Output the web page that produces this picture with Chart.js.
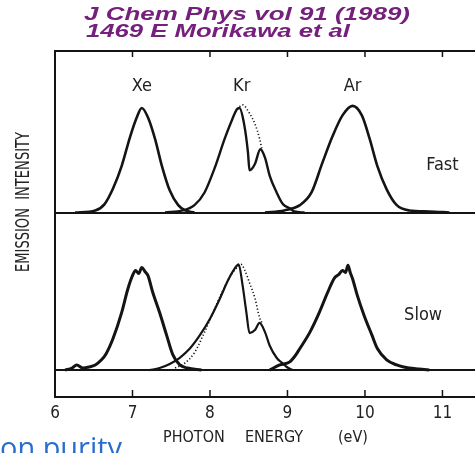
<!DOCTYPE html>
<html>
<head>
<meta charset="utf-8">
<script src="https://cdn.jsdelivr.net/npm/chart.js@4.4.0/dist/chart.umd.min.js"></script>
<style>
    html, body { margin: 0; padding: 0; background: #fff; }
</style>
</head>
<body>
<canvas id="chart" width="475" height="453"></canvas>
<script>
// Data (photon energy in eV, intensity normalised to peak)

const energyTicks = [6, 7, 8, 9, 10, 11];

const fastXeE = [6.26, 6.52, 6.64, 6.75, 6.86, 6.97, 7.06, 7.12, 7.20, 7.29, 7.38, 7.48, 7.59, 7.68, 7.80];
const fastXeI = [0, 0.02, 0.08, 0.23, 0.44, 0.72, 0.91, 0.99, 0.90, 0.70, 0.44, 0.21, 0.07, 0.02, 0];

const fastKrE = [7.42, 7.65, 7.80, 7.93, 8.06, 8.19, 8.28, 8.35, 8.38, 8.44, 8.49, 8.51, 8.58, 8.65, 8.71, 8.77, 8.86, 8.94, 9.03, 9.09, 9.22];
const fastKrI = [0, 0.02, 0.07, 0.19, 0.42, 0.70, 0.87, 0.98, 0.99, 0.84, 0.57, 0.40, 0.46, 0.60, 0.52, 0.35, 0.19, 0.08, 0.04, 0.01, 0];

const fastKrFitE = [8.35, 8.42, 8.51, 8.58, 8.64, 8.67];
const fastKrFitI = [0.98, 1.02, 0.94, 0.84, 0.70, 0.60];

const fastArE = [8.71, 8.96, 9.16, 9.31, 9.45, 9.58, 9.71, 9.84, 9.96, 10.06, 10.16, 10.28, 10.41, 10.57, 10.83, 11.09];
const fastArI = [0, 0.02, 0.07, 0.19, 0.47, 0.72, 0.92, 1.01, 0.92, 0.70, 0.44, 0.22, 0.07, 0.02, 0.01, 0];

const slowXeE = [6.13, 6.22, 6.28, 6.36, 6.44, 6.52, 6.60, 6.66, 6.75, 6.86, 6.94, 7.00, 7.04, 7.08, 7.12, 7.16, 7.20, 7.26, 7.35, 7.44, 7.52, 7.61, 7.71, 7.89];
const slowXeI = [0, 0.02, 0.05, 0.02, 0.03, 0.05, 0.10, 0.16, 0.31, 0.56, 0.79, 0.92, 0.97, 0.94, 1.0, 0.96, 0.92, 0.76, 0.56, 0.34, 0.15, 0.05, 0.02, 0];

const slowKrE = [7.22, 7.35, 7.48, 7.61, 7.74, 7.87, 8.00, 8.13, 8.23, 8.32, 8.37, 8.42, 8.47, 8.51, 8.58, 8.64, 8.71, 8.77, 8.86, 8.93, 8.99, 9.07];
const slowKrI = [0, 0.02, 0.06, 0.12, 0.21, 0.34, 0.50, 0.70, 0.87, 0.99, 1.03, 0.83, 0.56, 0.36, 0.39, 0.46, 0.37, 0.24, 0.12, 0.07, 0.03, 0];

const slowKrFitE = [7.55, 7.68, 7.80, 7.93, 8.04, 8.15, 8.25, 8.35, 8.40, 8.45, 8.51, 8.58, 8.64, 8.67];
const slowKrFitI = [0.02, 0.07, 0.17, 0.37, 0.56, 0.75, 0.90, 1.0, 1.03, 0.97, 0.85, 0.70, 0.51, 0.46];

const slowArE = [8.77, 8.90, 9.03, 9.10, 9.16, 9.29, 9.41, 9.52, 9.61, 9.66, 9.71, 9.75, 9.78, 9.81, 9.84, 9.90, 9.99, 10.09, 10.16, 10.28, 10.41, 10.50, 10.57, 10.70, 10.83];
const slowArI = [0, 0.05, 0.08, 0.14, 0.21, 0.37, 0.56, 0.76, 0.90, 0.93, 0.97, 0.95, 1.02, 0.95, 0.89, 0.73, 0.53, 0.34, 0.21, 0.10, 0.05, 0.03, 0.02, 0.01, 0];

const peakLabels = ["Xe", "Kr", "Ar"];
const peakLabelE = [7.12, 8.41, 9.84];

// Helpers

const ink = "#141414";
const narrow = '"Liberation Sans Narrow", "DejaVu Sans Condensed", sans-serif';

const pts = (xs, ys) => xs.map((x, i) => ({ x: x, y: ys[i] }));

const curve = (data, axis, width, dash) => ({
    data: data,
    yAxisID: axis,
    borderColor: ink,
    borderWidth: width,
    borderDash: dash || [],
    pointRadius: 0,
    cubicInterpolationMode: "monotone",
    fill: false,
});

// draw text squeezed/stretched to a given width
function fitText(ctx, text, x, y, width, font, color) {
    ctx.save();
    ctx.font = font;
    ctx.fillStyle = color;
    ctx.textBaseline = "alphabetic";
    ctx.textAlign = "left";
    const w = ctx.measureText(text).width;
    ctx.translate(x, y);
    ctx.scale(width / w, 1);
    ctx.fillText(text, 0, 0);
    ctx.restore();
}

const decor = {
    id: "decor",
    beforeDatasetsDraw(chart) {
        const { ctx, chartArea, scales } = chart;
        ctx.save();
        ctx.strokeStyle = ink;
        ctx.lineWidth = 2;
        // panel baselines
        [scales.yTop, scales.yBot].forEach((s) => {
            const y = Math.round(s.getPixelForValue(0));
            ctx.beginPath();
            ctx.moveTo(chartArea.left, y);
            ctx.lineTo(chartArea.right, y);
            ctx.stroke();
        });
        // top frame and inner ticks
        ctx.beginPath();
        ctx.moveTo(chartArea.left, chartArea.top);
        ctx.lineTo(chartArea.right, chartArea.top);
        ctx.stroke();
        ctx.lineWidth = 1.5;
        energyTicks.forEach((v) => {
            const x = scales.x.getPixelForValue(v);
            ctx.beginPath();
            ctx.moveTo(x, chartArea.top);
            ctx.lineTo(x, chartArea.top + 6);
            ctx.moveTo(x, chartArea.bottom);
            ctx.lineTo(x, chartArea.bottom - 7);
            ctx.stroke();
        });
        ctx.restore();
    },
    afterDraw(chart) {
        const { ctx, scales } = chart;
        ctx.save();
        ctx.fillStyle = "#222";
        ctx.textAlign = "center";
        ctx.textBaseline = "middle";
        ctx.font = "18px " + narrow;
        peakLabels.forEach((t, i) => {
            ctx.fillText(t, scales.x.getPixelForValue(peakLabelE[i]), scales.yTop.getPixelForValue(1.2));
        });
        ctx.fillText("Fast", scales.x.getPixelForValue(11.0), scales.yTop.getPixelForValue(0.45));
        ctx.fillText("Slow", scales.x.getPixelForValue(10.75), scales.yBot.getPixelForValue(0.53));

        // x axis title
        ctx.font = "16px " + narrow;
        ctx.textAlign = "left";
        ctx.fillText("PHOTON", 163, 438);
        ctx.fillText("ENERGY", 245, 438);
        ctx.fillText("(eV)", 338, 438);

        // y axis title, rotated
        ctx.translate(29, 272);
        ctx.rotate(-Math.PI / 2);
        fitText(ctx, "EMISSION  INTENSITY", 0, 0, 140, "20px " + narrow, "#222");
        ctx.restore();

        // citation header
        fitText(ctx, "J Chem Phys vol 91 (1989)", 84, 20, 326, "italic bold 19px 'Liberation Sans', Arial, sans-serif", "#74207c");
        fitText(ctx, "1469 E Morikawa et al", 86, 37, 264, "italic bold 19px 'Liberation Sans', Arial, sans-serif", "#74207c");

        // clipped slide text at the bottom
        fitText(ctx, "on purity", 0, 458, 122, "30px 'Open Sans', 'Liberation Sans', sans-serif", "#2a6ccb");
    },
};

const chart = new Chart(document.getElementById("chart"), {
    type: "line",
    data: {
        datasets: [
            curve(pts(fastXeE, fastXeI), "yTop", 2.6),
            curve(pts(fastKrE, fastKrI), "yTop", 2.4),
            curve(pts(fastKrFitE, fastKrFitI), "yTop", 1.6, [1.2, 2.2]),
            curve(pts(fastArE, fastArI), "yTop", 2.6),
            curve(pts(slowXeE, slowXeI), "yBot", 3),
            curve(pts(slowKrE, slowKrI), "yBot", 2.2),
            curve(pts(slowKrFitE, slowKrFitI), "yBot", 1.6, [1.2, 2.2]),
            curve(pts(slowArE, slowArI), "yBot", 3),
        ],
    },
    options: {
        responsive: false,
        animation: false,
        devicePixelRatio: 1,
        layout: {
            padding: { top: 51, left: 0, right: 0, bottom: 0 },
        },
        scales: {
            x: {
                type: "linear",
                position: "bottom",
                min: 6,
                max: 11.42,
                border: { color: ink, width: 2 },
                grid: { display: false, drawTicks: false },
                ticks: {
                    stepSize: 1,
                    includeBounds: false,
                    padding: 6,
                    color: "#222",
                    font: { family: narrow, size: 17 },
                },
                afterFit: (a) => { a.height = 56; },
            },
            // left stacks are laid out last-first, so the lower panel is declared first
            yBot: {
                type: "linear",
                position: "left",
                stack: "panels",
                stackWeight: 185,
                min: -0.262,
                max: 1.534,
                border: { color: ink, width: 2 },
                grid: { display: false, drawTicks: false },
                ticks: { display: false },
                afterFit: (a) => { a.width = 55; },
            },
            yTop: {
                type: "linear",
                position: "left",
                stack: "panels",
                stackWeight: 162,
                min: 0,
                max: 1.53,
                border: { color: ink, width: 2 },
                grid: { display: false, drawTicks: false },
                ticks: { display: false },
                afterFit: (a) => { a.width = 55; },
            },
        },
        plugins: {
            legend: { display: false },
            tooltip: { enabled: false },
        },
    },
    plugins: [decor],
});
</script>
</body>
</html>
